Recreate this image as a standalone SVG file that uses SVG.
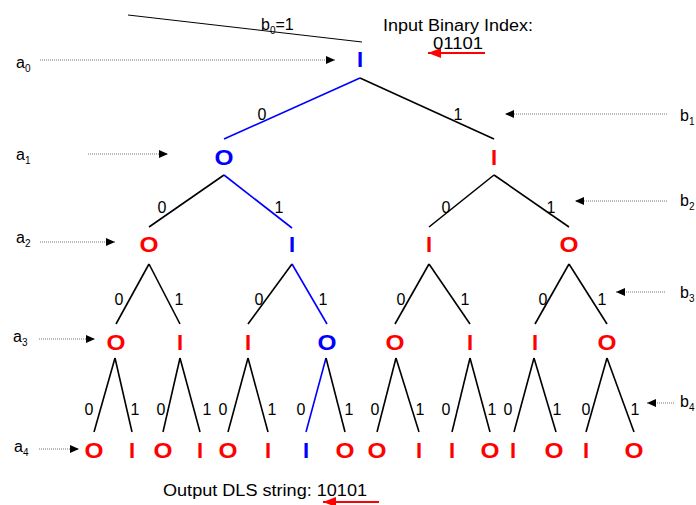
<svg xmlns="http://www.w3.org/2000/svg" width="696" height="505" viewBox="0 0 696 505">
<style>
.n{font-family:"Liberation Sans",Arial,sans-serif;font-weight:bold;font-size:22px;text-anchor:middle}
.r{fill:#FF0000}
.b{fill:#0000FF}
.e{stroke:#000;stroke-width:1.6;fill:none}
.eb{stroke:#0000FF;stroke-width:1.6;fill:none}
.l{font-family:"Liberation Sans",Arial,sans-serif;font-size:16px;text-anchor:middle;fill:#000}
.t{font-family:"Liberation Sans",Arial,sans-serif;font-size:16px;fill:#000}
.s{font-size:10px}
.d{stroke:#777;stroke-width:1;stroke-dasharray:1 1;fill:none}
.ra{stroke:#FF0000;stroke-width:2;fill:none}
</style>
<defs>
<marker id="ah" markerUnits="userSpaceOnUse" markerWidth="9" markerHeight="8" refX="9" refY="4" orient="auto"><path d="M0,0 L9,4 L0,8 z" fill="#000"/></marker>
<marker id="rh" markerUnits="userSpaceOnUse" markerWidth="13" markerHeight="10" refX="13" refY="5" orient="auto"><path d="M0,0 L13,5 L0,10 z" fill="#FF0000"/></marker>
</defs>
<rect width="696" height="505" fill="#fff"/>

<g id="connectors">
<line class="eb" x1="360" y1="78" x2="224" y2="139"/>
<line class="e" x1="360" y1="78" x2="494" y2="139"/>
<line class="e" x1="224" y1="175" x2="149" y2="227"/>
<line class="eb" x1="224" y1="175" x2="292" y2="228"/>
<line class="e" x1="494" y1="175" x2="429" y2="227"/>
<line class="e" x1="494" y1="175" x2="569" y2="227"/>
<line class="e" x1="149" y1="264" x2="116" y2="324"/>
<line class="e" x1="149" y1="264" x2="180" y2="324"/>
<line class="e" x1="292" y1="264" x2="248" y2="324"/>
<line class="eb" x1="292" y1="264" x2="327" y2="324"/>
<line class="e" x1="429" y1="264" x2="395" y2="324"/>
<line class="e" x1="429" y1="264" x2="470" y2="324"/>
<line class="e" x1="569" y1="264" x2="535" y2="324"/>
<line class="e" x1="569" y1="264" x2="607" y2="324"/>
<line class="e" x1="115" y1="358" x2="94" y2="432"/>
<line class="e" x1="115" y1="358" x2="132" y2="432"/>
<line class="e" x1="180" y1="358" x2="163" y2="432"/>
<line class="e" x1="180" y1="358" x2="200" y2="432"/>
<line class="e" x1="248" y1="358" x2="228" y2="432"/>
<line class="e" x1="248" y1="358" x2="268" y2="432"/>
<line class="eb" x1="326" y1="358" x2="306" y2="432"/>
<line class="e" x1="326" y1="358" x2="345" y2="432"/>
<line class="e" x1="396" y1="358" x2="377" y2="432"/>
<line class="e" x1="396" y1="358" x2="419" y2="432"/>
<line class="e" x1="470" y1="358" x2="452" y2="432"/>
<line class="e" x1="470" y1="358" x2="490" y2="432"/>
<line class="e" x1="534" y1="358" x2="514" y2="432"/>
<line class="e" x1="534" y1="358" x2="556" y2="432"/>
<line class="e" x1="607" y1="358" x2="586" y2="432"/>
<line class="e" x1="607" y1="358" x2="634" y2="432"/>

<text class="l" x="262" y="120">0</text>
<text class="l" x="458" y="120">1</text>
<text class="l" x="162" y="213">0</text>
<text class="l" x="279" y="213">1</text>
<text class="l" x="446" y="213">0</text>
<text class="l" x="551" y="213">1</text>
<text class="l" x="119" y="305">0</text>
<text class="l" x="179" y="305">1</text>
<text class="l" x="259" y="305">0</text>
<text class="l" x="323" y="305">1</text>
<text class="l" x="401" y="305">0</text>
<text class="l" x="465" y="305">1</text>
<text class="l" x="543" y="305">0</text>
<text class="l" x="602" y="305">1</text>
<text class="l" x="89" y="415">0</text>
<text class="l" x="135" y="415">1</text>
<text class="l" x="161" y="415">0</text>
<text class="l" x="207" y="415">1</text>
<text class="l" x="223" y="415">0</text>
<text class="l" x="272" y="415">1</text>
<text class="l" x="301" y="415">0</text>
<text class="l" x="349" y="415">1</text>
<text class="l" x="375" y="415">0</text>
<text class="l" x="420" y="415">1</text>
<text class="l" x="446" y="415">0</text>
<text class="l" x="492" y="415">1</text>
<text class="l" x="508" y="415">0</text>
<text class="l" x="557" y="415">1</text>
<text class="l" x="586" y="415">0</text>
<text class="l" x="635" y="415">1</text>
</g>

<g id="pointers">
<line class="d" x1="40" y1="60" x2="335" y2="60" marker-end="url(#ah)"/>
<line class="d" x1="88" y1="154" x2="168" y2="154" marker-end="url(#ah)"/>
<line class="d" x1="40" y1="242" x2="115" y2="242" marker-end="url(#ah)"/>
<line class="d" x1="39" y1="339" x2="95" y2="339" marker-end="url(#ah)"/>
<line class="d" x1="39" y1="449" x2="79" y2="449" marker-end="url(#ah)"/>
<line class="d" x1="667" y1="114" x2="505" y2="114" marker-end="url(#ah)"/>
<line class="d" x1="667" y1="201" x2="575" y2="201" marker-end="url(#ah)"/>
<line class="d" x1="665" y1="292" x2="616" y2="292" marker-end="url(#ah)"/>
<line class="d" x1="674" y1="403" x2="647" y2="403" marker-end="url(#ah)"/>
<line x1="128" y1="15" x2="362" y2="42" stroke="#000" stroke-width="1"/>
<line class="ra" x1="485" y1="53" x2="428" y2="53" marker-end="url(#rh)"/>
<line class="ra" x1="379" y1="502" x2="323" y2="502" marker-end="url(#rh)"/>
</g>

<g id="labels">
<text class="t" x="16" y="68">a<tspan class="s" dy="4">0</tspan></text>
<text class="t" x="16" y="160">a<tspan class="s" dy="4">1</tspan></text>
<text class="t" x="16" y="243">a<tspan class="s" dy="4">2</tspan></text>
<text class="t" x="13" y="342">a<tspan class="s" dy="4">3</tspan></text>
<text class="t" x="14" y="452">a<tspan class="s" dy="4">4</tspan></text>
<text class="t" x="680" y="121">b<tspan class="s" dy="4">1</tspan></text>
<text class="t" x="680" y="206">b<tspan class="s" dy="4">2</tspan></text>
<text class="t" x="680" y="298">b<tspan class="s" dy="4">3</tspan></text>
<text class="t" x="680" y="407">b<tspan class="s" dy="4">4</tspan></text>
<text class="t" x="261" y="30">b<tspan class="s" dy="4">0</tspan><tspan dy="-4">=1</tspan></text>
<text class="t" x="383" y="31" textLength="150" lengthAdjust="spacingAndGlyphs">Input Binary Index:</text>
<text class="t" x="433" y="49" textLength="50" lengthAdjust="spacingAndGlyphs">01101</text>
<text class="t" x="163" y="496" textLength="204" lengthAdjust="spacingAndGlyphs">Output DLS string: 10101</text>
</g>

<g id="n0"><text class="n b" x="360" y="67">I</text></g>
<g id="n1"><text class="n b" x="224" y="165" textLength="19" lengthAdjust="spacingAndGlyphs">O</text></g>
<g id="n2"><text class="n r" x="494" y="165">I</text></g>
<g id="n3"><text class="n r" x="149" y="252" textLength="19" lengthAdjust="spacingAndGlyphs">O</text></g>
<g id="n4"><text class="n b" x="292" y="252">I</text></g>
<g id="n5"><text class="n r" x="429" y="252">I</text></g>
<g id="n6"><text class="n r" x="569" y="252" textLength="19" lengthAdjust="spacingAndGlyphs">O</text></g>
<g id="n7"><text class="n r" x="116" y="350" textLength="19" lengthAdjust="spacingAndGlyphs">O</text></g>
<g id="n8"><text class="n r" x="180" y="350">I</text></g>
<g id="n9"><text class="n r" x="248" y="350">I</text></g>
<g id="n10"><text class="n b" x="327" y="350" textLength="19" lengthAdjust="spacingAndGlyphs">O</text></g>
<g id="n11"><text class="n r" x="395" y="350" textLength="19" lengthAdjust="spacingAndGlyphs">O</text></g>
<g id="n12"><text class="n r" x="470" y="350">I</text></g>
<g id="n13"><text class="n r" x="535" y="350">I</text></g>
<g id="n14"><text class="n r" x="607" y="350" textLength="19" lengthAdjust="spacingAndGlyphs">O</text></g>
<g id="n15"><text class="n r" x="94" y="458" textLength="19" lengthAdjust="spacingAndGlyphs">O</text></g>
<g id="n16"><text class="n r" x="132" y="458">I</text></g>
<g id="n17"><text class="n r" x="163" y="458" textLength="19" lengthAdjust="spacingAndGlyphs">O</text></g>
<g id="n18"><text class="n r" x="200" y="458">I</text></g>
<g id="n19"><text class="n r" x="228" y="458" textLength="19" lengthAdjust="spacingAndGlyphs">O</text></g>
<g id="n20"><text class="n r" x="268" y="458">I</text></g>
<g id="n21"><text class="n b" x="306" y="458">I</text></g>
<g id="n22"><text class="n r" x="345" y="458" textLength="19" lengthAdjust="spacingAndGlyphs">O</text></g>
<g id="n23"><text class="n r" x="377" y="458" textLength="19" lengthAdjust="spacingAndGlyphs">O</text></g>
<g id="n24"><text class="n r" x="419" y="458">I</text></g>
<g id="n25"><text class="n r" x="452" y="458">I</text></g>
<g id="n26"><text class="n r" x="490" y="458" textLength="19" lengthAdjust="spacingAndGlyphs">O</text></g>
<g id="n27"><text class="n r" x="513" y="458">I</text></g>
<g id="n28"><text class="n r" x="554" y="458" textLength="19" lengthAdjust="spacingAndGlyphs">O</text></g>
<g id="n29"><text class="n r" x="586" y="458">I</text></g>
<g id="n30"><text class="n r" x="634" y="458" textLength="19" lengthAdjust="spacingAndGlyphs">O</text></g>
</svg>
